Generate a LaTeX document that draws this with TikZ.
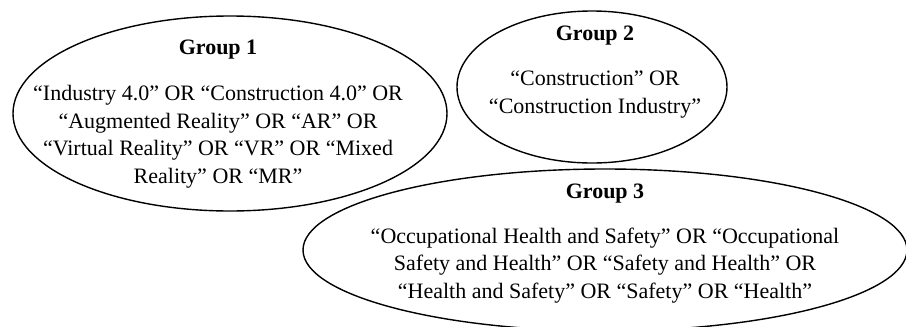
\documentclass[tikz,border=0pt]{standalone}
\usepackage{fontspec}
\setmainfont{Liberation Serif}
\usetikzlibrary{shapes.geometric}
\begin{document}
\begin{tikzpicture}[x=1pt,y=-1pt,
  ell/.style={draw=black, line width=1.4pt, ellipse, inner sep=0pt},
  head/.style={font=\fontsize{22}{27.5}\selectfont\bfseries, inner sep=0pt, anchor=base},
  body/.style={font=\fontsize{22}{27.5}\selectfont, align=center, inner sep=0pt, anchor=base}]
\useasboundingbox (0,0) rectangle (906,327);
\clip (0,0) rectangle (906,327);
\node[ell, minimum width=434pt, minimum height=195pt] (e1) at (230,113.5) {};
\node[ell, minimum width=270pt, minimum height=152pt] (e2) at (592,87) {};
\node[ell, minimum width=604pt, minimum height=162pt] (e3) at (605,250) {};
\node[head] (h1) at (218,54) {Group 1};
\node[body] (b1) at (218,183) {“Industry 4.0” OR “Construction 4.0” OR\\“Augmented Reality” OR “AR” OR\\“Virtual Reality” OR “VR” OR “Mixed\\Reality” OR “MR”};
\node[head] (h2) at (595,40) {Group 2};
\node[body] (b2) at (595,113) {“Construction” OR\\“Construction Industry”};
\node[head] (h3) at (605,198) {Group 3};
\node[body] (b3) at (605,298) {“Occupational Health and Safety” OR “Occupational\\Safety and Health” OR “Safety and Health” OR\\“Health and Safety” OR “Safety” OR “Health”};
\end{tikzpicture}
\end{document}
